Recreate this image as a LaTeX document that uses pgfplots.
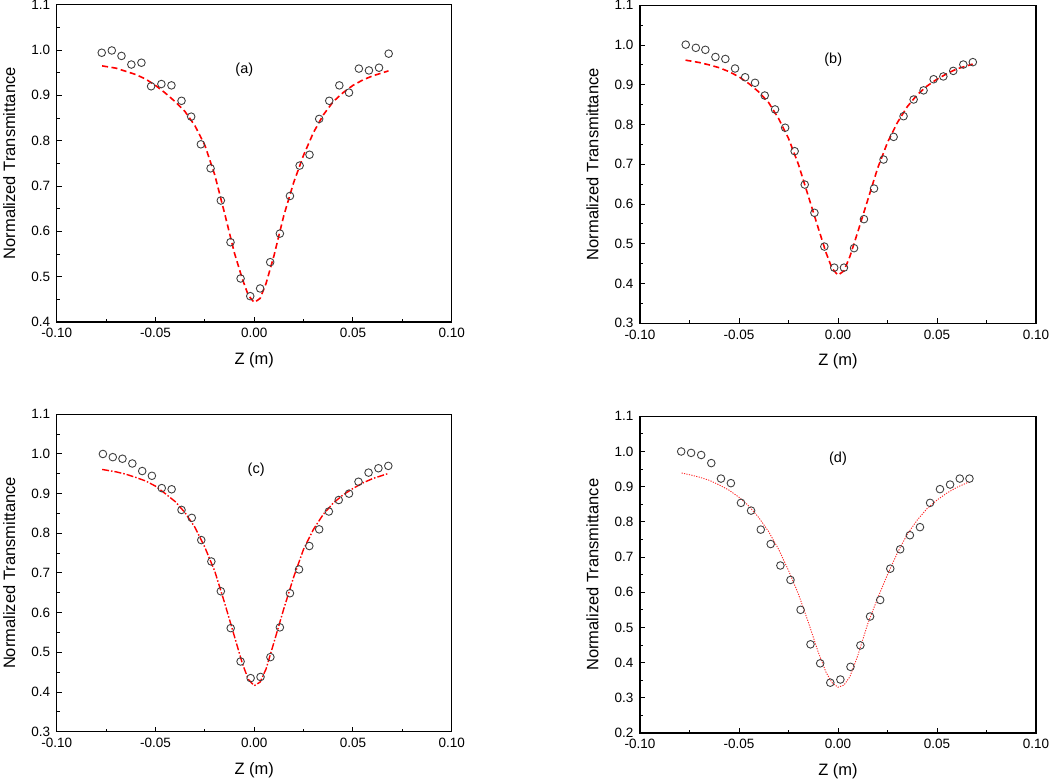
\documentclass[border=0pt]{standalone}
\usepackage{fontspec}
\setmainfont{Liberation Sans}
\usepackage{pgfplots}
\usepackage{pgfplotstable}
\pgfplotsset{compat=1.18}

% measured points (open circles)
\pgfplotstableread{
z T
-0.0772 0.994
-0.0721 0.999
-0.0672 0.987
-0.0622 0.968
-0.0571 0.972
-0.0522 0.920
-0.0470 0.925
-0.0419 0.922
-0.0368 0.888
-0.0319 0.853
-0.0270 0.792
-0.0221 0.739
-0.0169 0.668
-0.0120 0.576
-0.0069 0.496
-0.0020 0.457
0.0030 0.474
0.0081 0.532
0.0130 0.595
0.0181 0.678
0.0230 0.745
0.0280 0.769
0.0329 0.848
0.0380 0.888
0.0431 0.922
0.0480 0.906
0.0530 0.959
0.0581 0.955
0.0632 0.961
0.0681 0.992
}\dataA
\pgfplotstableread{
z T
-0.0769 1.001
-0.0718 0.993
-0.0670 0.988
-0.0619 0.970
-0.0569 0.965
-0.0520 0.941
-0.0469 0.919
-0.0419 0.905
-0.0370 0.873
-0.0318 0.838
-0.0267 0.792
-0.0219 0.733
-0.0168 0.649
-0.0119 0.578
-0.0069 0.493
-0.0019 0.440
0.0030 0.440
0.0081 0.489
0.0131 0.562
0.0182 0.639
0.0230 0.712
0.0281 0.769
0.0331 0.821
0.0382 0.863
0.0432 0.886
0.0483 0.914
0.0532 0.921
0.0582 0.935
0.0633 0.951
0.0681 0.957
}\dataB
\pgfplotstableread{
z T
-0.0766 1.000
-0.0716 0.992
-0.0667 0.988
-0.0617 0.976
-0.0567 0.957
-0.0518 0.945
-0.0468 0.914
-0.0418 0.911
-0.0368 0.859
-0.0316 0.839
-0.0268 0.783
-0.0217 0.729
-0.0169 0.654
-0.0119 0.561
-0.0069 0.477
-0.0018 0.435
0.0032 0.438
0.0082 0.488
0.0130 0.563
0.0181 0.649
0.0227 0.709
0.0279 0.768
0.0329 0.810
0.0378 0.855
0.0428 0.884
0.0480 0.900
0.0528 0.930
0.0579 0.953
0.0629 0.964
0.0679 0.970
}\dataC
\pgfplotstableread{
z T
-0.0792 1.000
-0.0742 0.996
-0.0691 0.990
-0.0640 0.967
-0.0591 0.923
-0.0541 0.910
-0.0490 0.854
-0.0439 0.832
-0.0390 0.778
-0.0340 0.737
-0.0291 0.676
-0.0240 0.635
-0.0189 0.550
-0.0139 0.452
-0.0090 0.398
-0.0039 0.343
0.0012 0.352
0.0063 0.388
0.0113 0.449
0.0162 0.531
0.0213 0.578
0.0264 0.667
0.0314 0.722
0.0363 0.762
0.0414 0.785
0.0465 0.854
0.0515 0.893
0.0566 0.906
0.0615 0.923
0.0664 0.923
}\dataD

% fitted curves
\pgfplotstableread{
z T
-0.077 0.965
-0.070 0.960
-0.065 0.953
-0.060 0.946
-0.055 0.936
-0.050 0.922
-0.045 0.905
-0.040 0.886
-0.035 0.864
-0.030 0.833
-0.025 0.790
-0.020 0.725
-0.015 0.640
-0.010 0.552
-0.006 0.495
-0.003 0.459
0.000 0.443
0.003 0.452
0.006 0.485
0.010 0.546
0.015 0.635
0.020 0.708
0.025 0.768
0.030 0.818
0.035 0.857
0.040 0.886
0.045 0.906
0.050 0.922
0.055 0.934
0.060 0.943
0.068 0.954
}\fitA
\pgfplotstableread{
z T
-0.077 0.962
-0.070 0.956
-0.065 0.950
-0.060 0.943
-0.055 0.933
-0.050 0.920
-0.045 0.903
-0.040 0.882
-0.035 0.855
-0.030 0.815
-0.025 0.765
-0.020 0.700
-0.015 0.620
-0.010 0.540
-0.006 0.477
-0.003 0.438
0.000 0.421
0.003 0.432
0.006 0.468
0.010 0.530
0.015 0.610
0.020 0.690
0.025 0.755
0.030 0.805
0.035 0.845
0.040 0.875
0.045 0.897
0.050 0.914
0.055 0.928
0.060 0.940
0.068 0.952
}\fitB
\pgfplotstableread{
z T
-0.077 0.961
-0.070 0.955
-0.065 0.949
-0.060 0.941
-0.055 0.932
-0.050 0.919
-0.045 0.900
-0.040 0.880
-0.035 0.852
-0.030 0.815
-0.025 0.765
-0.020 0.705
-0.015 0.625
-0.010 0.540
-0.006 0.472
-0.003 0.432
0.000 0.416
0.003 0.425
0.006 0.458
0.010 0.525
0.015 0.610
0.020 0.690
0.025 0.760
0.030 0.810
0.035 0.848
0.040 0.876
0.045 0.897
0.050 0.913
0.055 0.927
0.060 0.938
0.068 0.951
}\fitC
\pgfplotstableread{
z T
-0.079 0.939
-0.075 0.934
-0.070 0.927
-0.065 0.918
-0.060 0.905
-0.055 0.890
-0.050 0.870
-0.045 0.845
-0.040 0.812
-0.035 0.772
-0.030 0.722
-0.025 0.662
-0.020 0.595
-0.015 0.515
-0.010 0.430
-0.006 0.372
-0.003 0.343
0.000 0.330
0.003 0.336
0.006 0.360
0.010 0.420
0.015 0.510
0.020 0.583
0.025 0.650
0.030 0.712
0.035 0.765
0.040 0.805
0.045 0.838
0.050 0.862
0.055 0.882
0.060 0.898
0.066 0.913
}\fitD

\definecolor{markgray}{HTML}{404040}

\pgfplotsset{
  zscan/.style={
    scale only axis,
    anchor=south west,
    xmin=-0.1, xmax=0.1,
    xtick={-0.1,-0.05,0,0.05,0.1},
    xticklabels={-0.10,-0.05,0.00,0.05,0.10},
    minor x tick num=1,
    minor y tick num=1,
    tick pos=left,
    tick align=inside,
    major tick length=5pt,
    minor tick length=3pt,
    axis line style={line width=1.2pt},
    every tick/.style={black, line width=1pt},
    tick label style={font=\fontsize{13.5}{15}\selectfont},
    xticklabel style={yshift=-3pt},
    yticklabel style={xshift=-3pt},
    xlabel={Z (m)},
    ylabel={Normalized Transmittance},
    every axis x label/.style={at={(axis description cs:0.5,-0.12)}, anchor=center,
      font=\fontsize{16.5}{19}\selectfont},
    every axis y label/.style={at={(axis description cs:-0.12,0.5)}, rotate=90, anchor=center,
      font=\fontsize{16.5}{19}\selectfont},
    clip=false,
  },
  pts/.style={only marks, mark=o, mark size=3.8pt, draw=markgray, mark options={line width=0.9pt}},
}

\begin{document}
\begin{tikzpicture}
\path[use as bounding box] (0pt,0pt) rectangle (1050pt,779pt);

% (a)
\begin{axis}[zscan, at={(56.7pt,457pt)}, width=395pt, height=317.3pt,
  ymin=0.4, ymax=1.1, ytick={0.4,0.5,0.6,0.7,0.8,0.9,1.0,1.1},
  yticklabels={0.4,0.5,0.6,0.7,0.8,0.9,1.0,1.1}]
\addplot[pts] table[x=z, y=T] {\dataA};
\addplot[red, line width=1.6pt, dash pattern=on 6pt off 3.5pt] table[x=z, y=T] {\fitA};
\node[font=\fontsize{14.5}{17}\selectfont] at (axis cs:-0.005,0.957) {(a)};
\end{axis}

% (b)
\begin{axis}[zscan, at={(640pt,455.7pt)}, width=396pt, height=318pt,
  ymin=0.3, ymax=1.1, ytick={0.3,0.4,0.5,0.6,0.7,0.8,0.9,1.0,1.1},
  yticklabels={0.3,0.4,0.5,0.6,0.7,0.8,0.9,1.0,1.1}]
\addplot[pts] table[x=z, y=T] {\dataB};
\addplot[red, line width=1.6pt, dash pattern=on 6pt off 3.5pt] table[x=z, y=T] {\fitB};
\node[font=\fontsize{14.5}{17}\selectfont] at (axis cs:-0.0024,0.962) {(b)};
\end{axis}

% (c)
\begin{axis}[zscan, at={(56.7pt,47.3pt)}, width=395pt, height=317.4pt,
  ymin=0.3, ymax=1.1, ytick={0.3,0.4,0.5,0.6,0.7,0.8,0.9,1.0,1.1},
  yticklabels={0.3,0.4,0.5,0.6,0.7,0.8,0.9,1.0,1.1}]
\addplot[pts] table[x=z, y=T] {\dataC};
\addplot[red, line width=1.4pt, dash pattern=on 7pt off 2pt on 1.5pt off 2pt] table[x=z, y=T] {\fitC};
\node[font=\fontsize{14.5}{17}\selectfont] at (axis cs:0.001,0.960) {(c)};
\end{axis}

% (d)
\begin{axis}[zscan, at={(640pt,46pt)}, width=396pt, height=316.7pt,
  ymin=0.2, ymax=1.1, ytick={0.2,0.3,0.4,0.5,0.6,0.7,0.8,0.9,1.0,1.1},
  yticklabels={0.2,0.3,0.4,0.5,0.6,0.7,0.8,0.9,1.0,1.1}]
\addplot[pts] table[x=z, y=T] {\dataD};
\addplot[red!85, line width=0.9pt, dash pattern=on 1.2pt off 1.3pt] table[x=z, y=T] {\fitD};
\node[font=\fontsize{14.5}{17}\selectfont] at (axis cs:0.0,0.979) {(d)};
\end{axis}
\end{tikzpicture}
\end{document}
